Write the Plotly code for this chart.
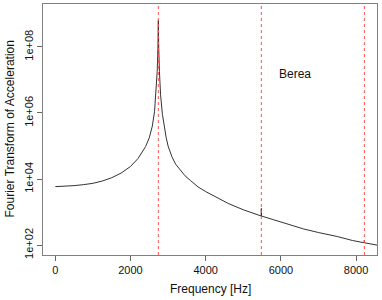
import plotly.graph_objects as go

# Frequency [Hz] and log10 of Fourier transform magnitude
freq = [0, 250, 500, 750, 1000, 1250, 1500, 1750, 2000, 2200, 2400, 2500, 2580,
        2640, 2680, 2710, 2730, 2740, 2750, 2770, 2800, 2850, 2900, 2950, 3000,
        3100, 3200, 3300, 3450, 3600, 3800, 4000, 4300, 4600, 5000, 5300, 5478,
        5480, 5482, 5800, 6200, 6600, 7000, 7500, 7900, 8218, 8220, 8222, 8600]
log_amp = [3.77, 3.78, 3.80, 3.83, 3.87, 3.94, 4.04, 4.18, 4.38, 4.62, 4.98, 5.25, 5.60,
           6.05, 6.60, 7.25, 8.00, 8.80, 8.00, 7.25, 6.55, 5.95, 5.55, 5.25, 5.00,
           4.68, 4.45, 4.30, 4.10, 3.95, 3.76, 3.62, 3.44, 3.26, 3.07, 2.95, 2.88,
           3.11, 2.88, 2.77, 2.62, 2.49, 2.38, 2.26, 2.14, 2.07, 2.15, 2.07, 1.99]
amp = [10 ** v for v in log_amp]

harmonics = [2740, 5480, 8220]
x_ticks = [0, 2000, 4000, 6000, 8000]
y_ticks = [1e2, 1e4, 1e6, 1e8]
y_tick_labels = ["1e+02", "1e+04", "1e+06", "1e+08"]

FONT = "Liberation Sans, Arial, Helvetica, sans-serif"

fig = go.Figure()
fig.add_trace(go.Scatter(x=freq, y=amp, mode="lines",
                         line=dict(color="#333333", width=1), hoverinfo="skip"))

for h in harmonics:
    fig.add_shape(type="line", xref="x", yref="paper", x0=h, x1=h, y0=0, y1=1,
                  line=dict(color="#ff5050", width=1, dash="3px,3px"))

fig.add_annotation(text="Berea", xref="paper", yref="paper", x=0.753, y=0.72,
                   xanchor="center", yanchor="middle",
                   showarrow=False, font=dict(family=FONT, size=12, color="#111"))
fig.add_annotation(text="Frequency [Hz]", xref="paper", yref="paper", x=0.5, y=0,
                   yshift=-34, showarrow=False, xanchor="center", yanchor="middle",
                   font=dict(family=FONT, size=12, color="#111"))
fig.add_annotation(text="Fourier Transform of Acceleration", xref="paper", yref="paper",
                   x=0, y=0.5, xshift=-34, showarrow=False, textangle=-90,
                   xanchor="center", yanchor="middle",
                   font=dict(family=FONT, size=12, color="#111"))

fig.update_layout(
    width=382, height=300,
    margin=dict(l=43, r=5, t=4, b=45),
    paper_bgcolor="white", plot_bgcolor="white",
    showlegend=False,
    font=dict(family=FONT, size=11, color="#111"),
)
fig.update_xaxes(range=[-327, 8556], tickvals=x_ticks, ticks="outside", ticklen=5,
                 tickcolor="#666", showgrid=False, zeroline=False, showline=True,
                 linecolor="#808080", linewidth=1, mirror=True, automargin=False,
                 tickfont=dict(family=FONT, size=11, color="#111"))
fig.update_yaxes(type="log", range=[1.70, 9.30], tickvals=y_ticks, ticktext=y_tick_labels,
                 tickangle=-90, ticks="outside", ticklen=5, tickcolor="#666",
                 showgrid=False, zeroline=False, showline=True, linecolor="#808080",
                 linewidth=1, mirror=True, automargin=False,
                 tickfont=dict(family=FONT, size=11, color="#111"))

fig.write_html("out.html", config={"displayModeBar": False},
               post_script="document.body.style.margin='0';document.body.style.padding='0';")
